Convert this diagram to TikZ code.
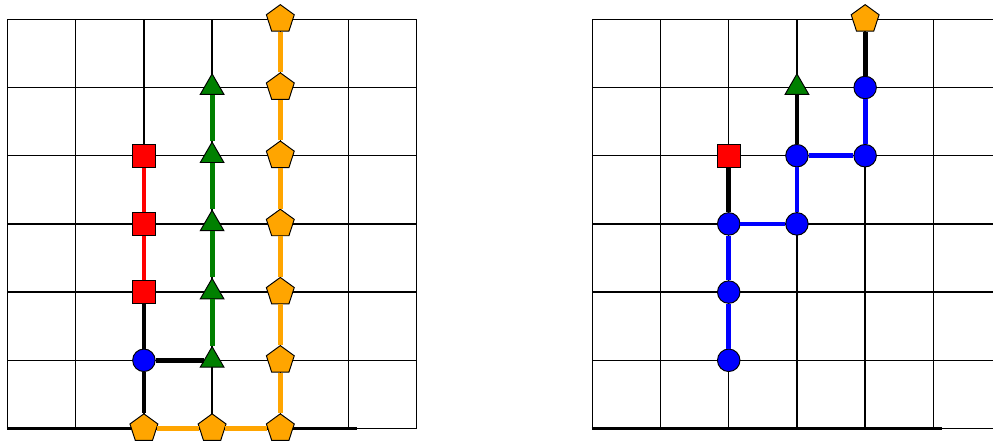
\documentclass[tikz,border=0pt]{standalone}
\usetikzlibrary{shapes.geometric}
\definecolor{pathorange}{HTML}{FFA500}
\definecolor{pathgreen}{HTML}{008000}
\definecolor{pathred}{HTML}{FF0000}
\definecolor{pathblue}{HTML}{0000FF}

\begin{document}
\begin{tikzpicture}[
  gridline/.style={line width=0.6pt},
  axisline/.style={line width=1.3pt},
  link/.style={line width=2pt},
  pent/.style={regular polygon, regular polygon sides=5, draw=black, line width=0.4pt, fill=pathorange, minimum size=4.3mm, inner sep=0pt},
  tri/.style={regular polygon, regular polygon sides=3, draw=black, line width=0.4pt, fill=pathgreen, minimum size=4mm, inner sep=0pt},
  sq/.style={rectangle, draw=black, line width=0.4pt, fill=pathred, minimum size=3.4mm, inner sep=0pt},
  bluedot/.style={circle, draw=black, line width=0.4pt, fill=pathblue, minimum size=3.3mm, inner sep=0pt}
]
\clip (-0.11,-0.169) rectangle (14.45,6.283);

% left grid
\draw[gridline] (0,0) grid (6,6);
\draw[axisline] (-0.01,0) -- (5.13,0);
\foreach \y in {0,...,6} \node[pent] (p\y) at (4,\y) {};
\node[pent] (q2) at (2,0) {};
\node[pent] (q3) at (3,0) {};
\foreach \y in {1,...,5} \node[tri] (t\y) at (3,\y) {};
\foreach \y in {2,3,4} \node[sq] (s\y) at (2,\y) {};
\node[bluedot] (c1) at (2,1) {};
\draw[link, pathorange] (q2) -- (q3) -- (p0) -- (p1) -- (p2) -- (p3) -- (p4) -- (p5) -- (p6);
\draw[link, pathgreen] (t1) -- (t2) -- (t3) -- (t4) -- (t5);
\draw[link, pathred] (s2) -- (s3) -- (s4);
\draw[link] (q2) -- (c1);
\draw[link] (c1) -- (s2);
\draw[link] (c1) -- (t1);

% right grid
\begin{scope}[shift={(8.575,0)}]
\draw[gridline] (0,0) grid (6,6);
\draw[axisline] (-0.01,0) -- (5.13,0);
\node[pent] (rp6) at (4,6) {};
\foreach \n/\x/\y in {1/2/1,2/2/2,3/2/3,4/3/3,5/3/4,6/4/4,7/4/5}
  \node[bluedot] (rc\n) at (\x,\y) {};
\node[tri] (rt5) at (3,5) {};
\node[sq] (rs4) at (2,4) {};
\draw[link, pathblue] (rc1) -- (rc2) -- (rc3) -- (rc4) -- (rc5) -- (rc6) -- (rc7);
\draw[link] (rc7) -- (rp6);
\draw[link] (rc5) -- (rt5);
\draw[link] (rc3) -- (rs4);
\end{scope}
\end{tikzpicture}
\end{document}
